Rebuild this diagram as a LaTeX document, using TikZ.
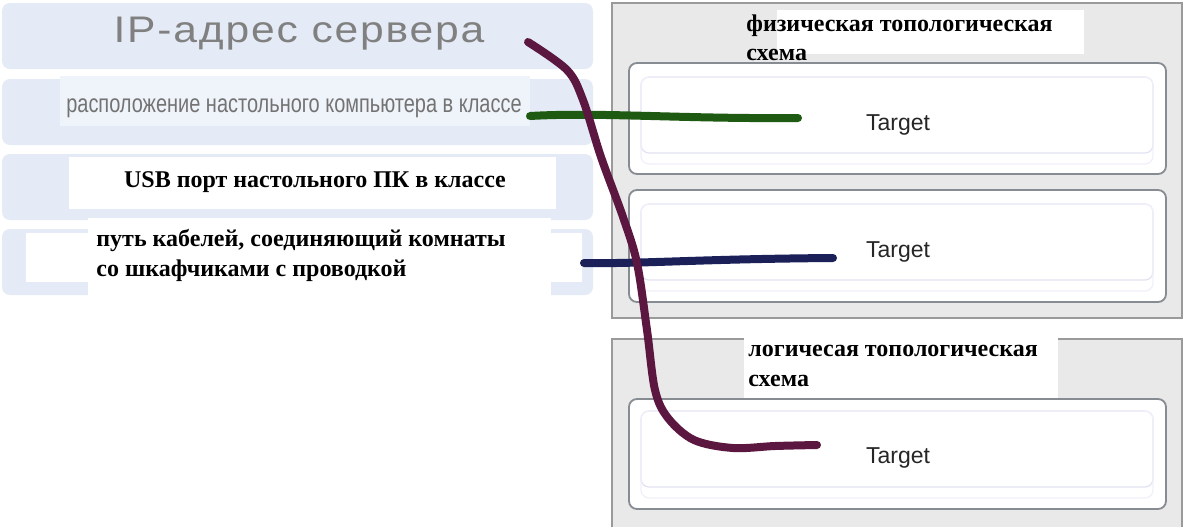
\documentclass[tikz,border=0pt]{standalone}
\usepackage{fontspec}
\setmainfont{Liberation Serif}
\setsansfont{Liberation Sans}
\newfontfamily\narrowsans[FakeStretch=0.78]{Liberation Sans}
\newfontfamily\widesans[FakeStretch=1.15, LetterSpace=5]{Liberation Sans}
\usetikzlibrary{positioning}

\definecolor{itemblue}{HTML}{E4EBF6}
\definecolor{panelgray}{HTML}{E9E9E9}
\definecolor{panelline}{HTML}{9A9A9A}
\definecolor{boxline}{HTML}{868C92}
\definecolor{innerline}{HTML}{E2E2F4}
\definecolor{wiregreen}{HTML}{1F5A12}
\definecolor{wirenavy}{HTML}{1B2058}
\definecolor{wireplum}{HTML}{5B1740}

\tikzset{
  item/.style={fill=itemblue, rounded corners=4pt},
  panel/.style={fill=panelgray},
  paneledge/.style={draw=panelline, line width=0.8pt},
  targetbox/.style={draw=boxline, fill=white, rounded corners=4pt, line width=0.9pt},
  targetinner/.style={draw=innerline, rounded corners=4pt, line width=0.6pt},
  whitelabel/.style={fill=white},
  boldtext/.style={font=\fontsize{12}{14.5}\selectfont\bfseries, inner sep=0pt, text=black},
  targettext/.style={font=\sffamily\fontsize{11.5}{13}\selectfont, inner sep=0pt, text=black!85},
  wire/.style={line width=4pt, line cap=round, line join=round}
}

\begin{document}
\begin{tikzpicture}[x=0.5pt, y=-0.5pt]
\useasboundingbox[fill=white] (0,0) rectangle (1191,527);

% source items
\fill[item] (2,3) rectangle (593,69);
\fill[item] (2,79) rectangle (593,145);
\fill[item] (2,154) rectangle (593,220);
\fill[item] (2,229) rectangle (593,295);

\node[font=\widesans\fontsize{18.5}{20}\selectfont, text=black!50, inner sep=0pt, anchor=base] (ip) at (299,42) {IP-адрес сервера};

\fill[itemblue!60!white] (60,76) rectangle (530,126);
\node[font=\narrowsans\fontsize{12.8}{14}\selectfont, text=black!55, inner sep=0pt, anchor=base] (desk) at (294,112) {расположение настольного компьютера в классе};

\fill[whitelabel] (69,157) rectangle (556,209);
\node[boldtext, anchor=base] (usb) at (315,187) {USB порт настольного ПК в классе};

\fill[whitelabel] (26,233) rectangle (582,282);
\fill[whitelabel] (88,218) rectangle (551,297);
\node[boldtext, anchor=base west] (cable1) at (96,246) {путь кабелей, соединяющий комнаты};
\node[boldtext, anchor=base west] (cable2) at (96,276) {со шкафчиками с проводкой};

% physical panel
\fill[panel] (612,3) rectangle (1182,318);
\draw[paneledge] (612,3) rectangle (1182,318);
\fill[whitelabel] (777,10) rectangle (1084,54);
\node[boldtext, anchor=base west] (phys1) at (746,31) {физическая топологическая};
\node[boldtext, anchor=base west] (phys2) at (746,60) {схема};

\draw[targetbox] (629,63) rectangle (1166,174);
\draw[targetinner] (641,77) rectangle (1153,153);
\draw[targetinner, draw=innerline!50] (641,77) rectangle (1153,164);
\node[targettext, anchor=base] (t1) at (898,130) {Target};

\draw[targetbox] (629,190) rectangle (1166,302);
\draw[targetinner] (641,204) rectangle (1153,280);
\draw[targetinner, draw=innerline!50] (641,204) rectangle (1153,291);
\node[targettext, anchor=base] (t2) at (898,257) {Target};

% logical panel
\fill[panel] (612,339) rectangle (1182,527);
\draw[paneledge] (612,527) |- (1182,339) -- (1182,527);
\fill[whitelabel] (744,338) rectangle (1058,399);
\node[boldtext, anchor=base west] (log1) at (748,356) {логичесая топологическая};
\node[boldtext, anchor=base west] (log2) at (748,386) {схема};

\draw[targetbox] (629,399) rectangle (1166,509);
\draw[targetinner] (641,411) rectangle (1153,487);
\draw[targetinner, draw=innerline!50] (641,411) rectangle (1153,498);
\node[targettext, anchor=base] (t3) at (898,463) {Target};

% answer wires
\coordinate (green-a) at (530,116);
\coordinate (green-b) at (798,118);
\coordinate (navy-a) at (584,263);
\coordinate (navy-b) at (833,258);
\coordinate (plum-a) at (528,42);
\coordinate (plum-b) at (817,445);

\draw[wire, wiregreen] (green-a) .. controls (600,112) and (680,119) .. (green-b);
\draw[wire, wirenavy] (navy-a) .. controls (640,264) and (700,259) .. (navy-b);
\draw[wire, wireplum] plot[smooth, tension=0.55] coordinates {(plum-a) (567,70) (583,100) (601,157) (623,217) (637,263) (647,330) (655,390) (668,418) (694,440) (733,448) (775,446) (plum-b)};
\end{tikzpicture}
\end{document}
